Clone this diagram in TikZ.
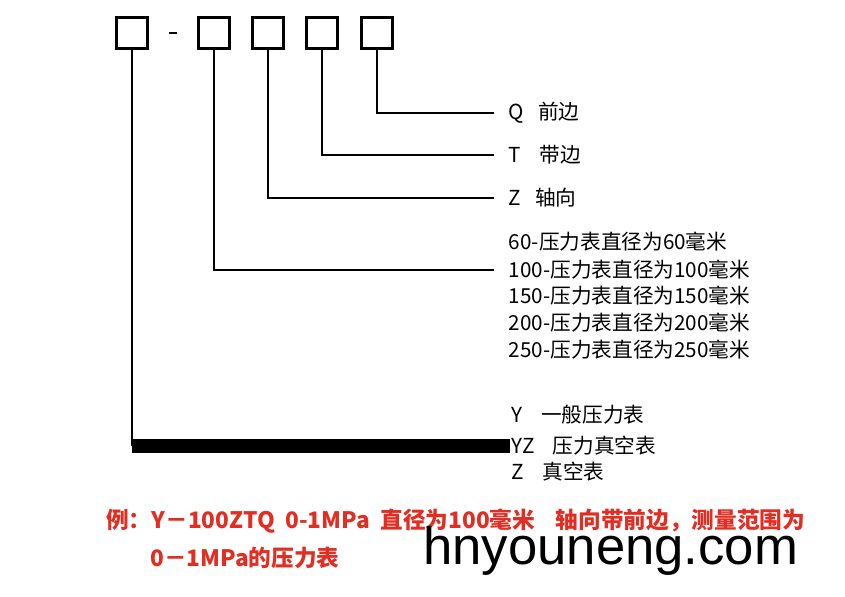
\documentclass[tikz,border=0pt]{standalone}
\usepackage{fontspec}
\newfontfamily\cjk{Noto Sans CJK SC}
\newfontfamily\wmfont{Liberation Sans}
\usepackage{tikz}
\usetikzlibrary{positioning}
\definecolor{notered}{RGB}{226,45,35}
\tikzset{
  codebox/.style={draw, line width=2pt, minimum size=23pt, inner sep=0pt},
  lead/.style={line width=1pt},
  bar/.style={line width=10.5pt},
  item/.style={anchor=west, inner xsep=11pt, inner ysep=0pt, font=\cjk\fontsize{15.5}{17}\selectfont},
  kind/.style={item, inner xsep=1pt},
  note/.style={anchor=west, inner sep=0pt, text=notered, font=\cjk\bfseries\fontsize{17}{19}\selectfont},
}

\begin{document}
\begin{tikzpicture}[x=0.75pt, y=-0.75pt]
  \useasboundingbox (0,0) rectangle (845,596);
  % code boxes
  \node[codebox] (b1) at (132,33) {};
  \node[inner sep=0pt] (dash) at (173,33) {\rule{6.5pt}{1.2pt}};
  \node[codebox] (b2) at (214,33) {};
  \node[codebox] (b3) at (268,33) {};
  \node[codebox] (b4) at (322,33) {};
  \node[codebox] (b5) at (377,33) {};

  % meanings
  \node[item] (q) at (494,113) {Q\ \ \ 前边};
  \node[item] (t) at (494,155) {T\ \ \ \ 带边};
  \node[item] (z) at (494,198) {Z\ \ \ 轴向};
  \node[item] (d60) at (494,242) {60-压力表直径为60毫米};
  \node[item] (d100) at (494,270) {100-压力表直径为100毫米};
  \node[item] (d150) at (494,296) {150-压力表直径为150毫米};
  \node[item] (d200) at (494,323) {200-压力表直径为200毫米};
  \node[item] (d250) at (494,350) {250-压力表直径为250毫米};
  \node[kind] (ty) at (510,415) {Y\ \ \ \ 一般压力表};
  \node[kind] (tyz) at (510,446) {YZ\ \ \ \ 压力真空表};
  \node[kind] (tz) at (510,472) {Z\ \ \ \ 真空表};

  % leads
  \draw[lead] (b5.south) |- (q.west);
  \draw[lead] (b4.south) |- (t.west);
  \draw[lead] (b3.south) |- (z.west);
  \draw[lead] (b2.south) |- (d100.west);
  \draw[lead] (b1.south) -- (b1.south |- tyz.west);
  \draw[bar] (b1.south |- tyz.west) -- (tyz.west);

  % example
  \node[note] (ex1) at (106,521) {例：Y－100ZTQ\ \ 0-1MPa\ \ 直径为100毫米\ \ \ \ 轴向带前边，测量范围为};
  \node[note] (ex2) at (150,558) {0－1MPa的压力表};
  \node[anchor=west, inner sep=0pt, font=\wmfont\fontsize{39.5}{42}\selectfont] (wm) at (423,551) {hnyouneng.com};
\end{tikzpicture}
\end{document}
